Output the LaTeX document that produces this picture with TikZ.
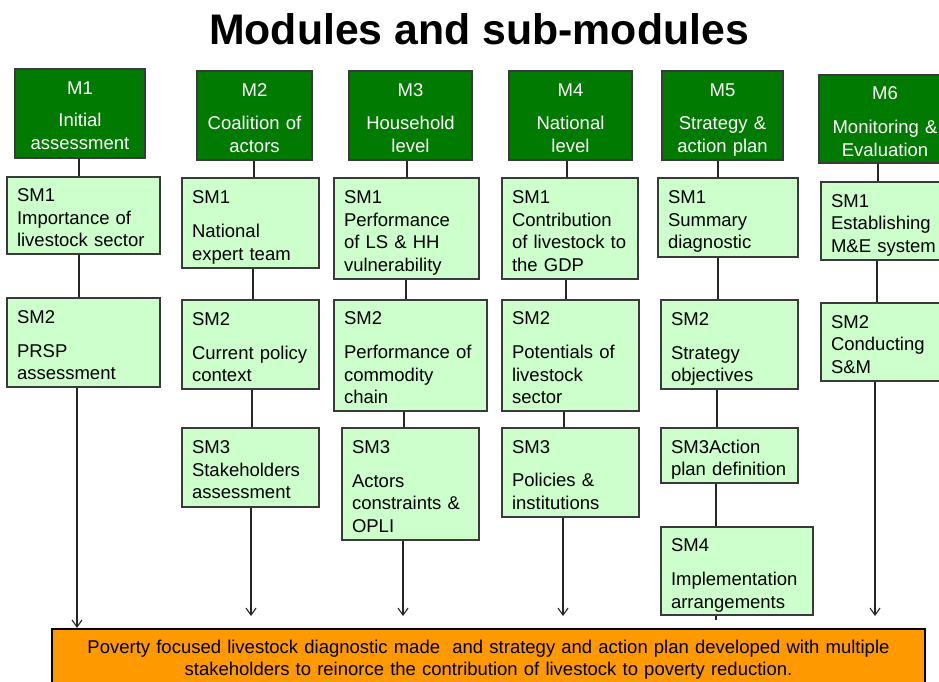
\documentclass[tikz,border=0pt]{standalone}
\usepackage{fontspec}
\setmainfont{Liberation Sans}
\usetikzlibrary{arrows.meta}
\definecolor{mgreen}{HTML}{007A00}
\definecolor{lgreen}{HTML}{CCFFCC}
\definecolor{orng}{HTML}{FF9900}
\definecolor{edge}{HTML}{3A3A3A}
\newcommand\topst{\rule{0pt}{21.5pt}}
\newcommand\botst{\rule[-4pt]{0pt}{4pt}}
\begin{document}
\begin{tikzpicture}[x=1pt,y=-1pt,
  boxfont/.style={font=\fontsize{18.5}{22.5}\selectfont},
  mbox/.style={boxfont, draw=edge, line width=1.2pt, fill=mgreen, text=white, align=center, inner sep=0pt},
  smbox/.style={boxfont, draw=edge, line width=1.2pt, fill=lgreen, align=left, inner xsep=10pt, inner ysep=0pt},
  link/.style={line width=1.1pt, draw=black!85},
  arr/.style={link, -{Straight Barb[length=7pt,width=10pt,line width=1.1pt]}}]
\useasboundingbox (0,0) rectangle (939,682);
\fill[white] (0,0) rectangle (939,682);

\node[font=\bfseries\fontsize{42.8}{50}\selectfont, anchor=base] (title) at (479,45) {Modules and sub-modules};

% module boxes
\node[mbox, minimum width=130pt, minimum height=89pt, text width=130pt] (m1) at (80,113.5) {\topst M1\\[9.5pt]Initial\\assessment\botst};
\node[mbox, minimum width=115pt, minimum height=89pt, text width=115pt] (m2) at (254.5,115.5) {\topst M2\\[11pt]Coalition of\\actors\botst};
\node[mbox, minimum width=123pt, minimum height=89pt, text width=123pt] (m3) at (410.5,115.5) {\topst M3\\[11pt]Household\\level\botst};
\node[mbox, minimum width=123pt, minimum height=89pt, text width=123pt] (m4) at (570.5,115.5) {\topst M4\\[11pt]National\\level\botst};
\node[mbox, minimum width=121pt, minimum height=89pt, text width=121pt] (m5) at (722.5,115.5) {\topst M5\\[11pt]Strategy \&\\action plan\botst};
\node[mbox, minimum width=132pt, minimum height=88pt, text width=132pt] (m6) at (885,119) {\topst M6\\[11.5pt]Monitoring \&\\Evaluation\botst};

% sub-module boxes
\node[smbox, minimum height=77pt, text width=133pt] (m1s1) at (83.5,215.5) {\topst SM1\\Importance of\\livestock sector\botst};
\node[smbox, minimum height=89pt, text width=133pt] (m1s2) at (83.5,342.5) {\topst SM2\\[11.5pt]PRSP\\assessment\botst};

\node[smbox, minimum height=90pt, text width=117pt] (m2s1) at (250.5,223) {\topst SM1\\[11.5pt]National\\expert team\botst};
\node[smbox, minimum height=89pt, text width=117pt] (m2s2) at (250.5,344.5) {\topst SM2\\[11.5pt]Current policy\\context\botst};
\node[smbox, minimum height=79pt, text width=117pt] (m2s3) at (250.5,467.5) {\topst SM3\\Stakeholders\\assessment\botst};

\node[smbox, minimum height=101pt, text width=125pt] (m3s1) at (406.5,228.5) {\topst SM1\\Performance\\of LS \& HH\\vulnerability\botst};
\node[smbox, minimum height=111pt, text width=133pt] (m3s2) at (410.5,355.5) {\topst SM2\\[11.5pt]Performance of\\commodity\\chain\botst};
\node[smbox, minimum height=112pt, text width=117pt] (m3s3) at (410.5,484) {\topst SM3\\[11pt]Actors\\constraints \&\\OPLI\botst};

\node[smbox, minimum height=101pt, text width=116pt] (m4s1) at (570,228.5) {\topst SM1\\Contribution\\of livestock to\\the GDP\botst};
\node[smbox, minimum height=111pt, text width=117pt] (m4s2) at (570.5,355.5) {\topst SM2\\[11.5pt]Potentials of\\livestock\\sector\botst};
\node[smbox, minimum height=89pt, text width=117pt] (m4s3) at (570.5,472.5) {\topst SM3\\[11pt]Policies \&\\institutions\botst};

\node[smbox, minimum height=79pt, text width=120pt] (m5s1) at (728,217.5) {\topst SM1\\Summary\\diagnostic\botst};
\node[smbox, minimum height=89pt, text width=117pt] (m5s2) at (729.5,344.5) {\topst SM2\\[11.5pt]Strategy\\objectives\botst};
\node[smbox, minimum height=55pt, text width=117pt] (m5s3) at (729.5,455.5) {\topst SM3Action\\plan definition\botst};
\node[smbox, minimum height=88pt, text width=132pt] (m5s4) at (737,571) {\topst SM4\\[11.5pt]Implementation\\arrangements\botst};

\node[smbox, minimum height=78pt, text width=119pt] (m6s1) at (890.5,221) {\topst SM1\\Establishing\\M\&E system\botst};
\node[smbox, minimum height=78pt, text width=119pt] (m6s2) at (890.5,342) {\topst SM2\\Conducting\\S\&M\botst};

% outcome box
\node[draw=black, line width=2.2pt, fill=orng, minimum width=873pt, minimum height=61pt, text width=870pt, align=center, inner sep=0pt, font=\fontsize{18.5}{22.5}\selectfont] (out) at (488.5,659.5) {Poverty focused livestock diagnostic made\ \ and strategy and action plan developed with multiple\\stakeholders to reinorce the contribution of livestock to poverty reduction.};

% end points
\coordinate (e2) at (251,616);
\coordinate (e3) at (403,616);
\coordinate (e4) at (563,616);
\coordinate (e5) at (716,620);
\coordinate (e6) at (875,616);

% connectors
\draw[link] (m1.south -| 79,0) -- (m1s1.north -| 79,0);
\draw[link] (m1s1.south -| 79,0) -- (m1s2.north -| 79,0);
\draw[arr] (m1s2.south -| 77,0) -- (out.north -| 77,0);

\draw[link] (m2.south -| 254,0) -- (m2s1.north -| 254,0);
\draw[link] (m2s1.south -| 253,0) -- (m2s2.north -| 253,0);
\draw[link] (m2s2.south -| 252,0) -- (m2s3.north -| 252,0);
\draw[arr] (m2s3.south -| 251,0) -- (e2);

\draw[link] (m3.south -| 407,0) -- (m3s1.north -| 407,0);
\draw[link] (m3s1.south -| 406,0) -- (m3s2.north -| 406,0);
\draw[link] (m3s2.south -| 404,0) -- (m3s3.north -| 404,0);
\draw[arr] (m3s3.south -| 403,0) -- (e3);

\draw[link] (m4.south -| 567,0) -- (m4s1.north -| 567,0);
\draw[link] (m4s1.south -| 566,0) -- (m4s2.north -| 566,0);
\draw[link] (m4s2.south -| 564,0) -- (m4s3.north -| 564,0);
\draw[arr] (m4s3.south -| 563,0) -- (e4);

\draw[link] (m5.south -| 718,0) -- (m5s1.north -| 718,0);
\draw[link] (m5s1.south -| 718,0) -- (m5s2.north -| 718,0);
\draw[link] (m5s2.south -| 717,0) -- (m5s3.north -| 717,0);
\draw[link] (m5s3.south -| 716,0) -- (m5s4.north -| 716,0);
\draw[link] (m5s4.south -| 716,0) -- (e5);

\draw[link] (m6.south -| 878,0) -- (m6s1.north -| 878,0);
\draw[link] (m6s1.south -| 877,0) -- (m6s2.north -| 877,0);
\draw[arr] (m6s2.south -| 875,0) -- (e6);
\end{tikzpicture}
\end{document}
